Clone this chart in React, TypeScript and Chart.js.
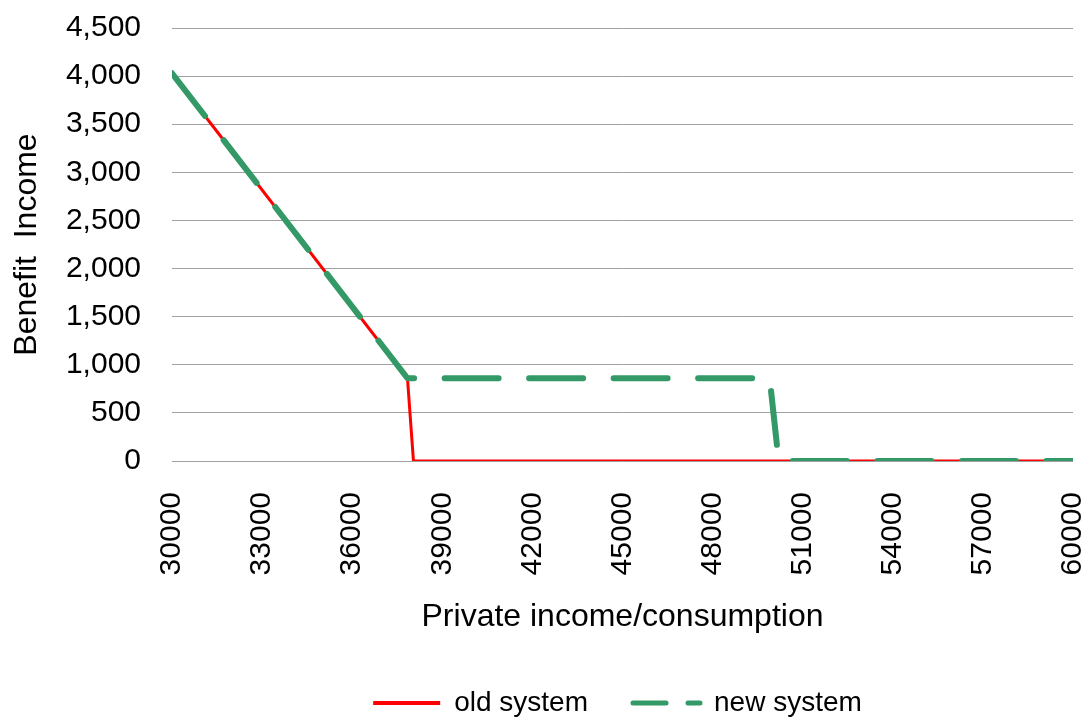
import React, { useEffect, useRef } from "react";
import { Chart, registerables } from "chart.js";

Chart.register(...registerables);

const oldIncome = [30000, 37840, 38040, 60000];
const oldBenefit = [4030, 860, 0, 0];
const newIncome = [30000, 37840, 49900, 50200, 60000];
const newBenefit = [4030, 860, 860, 0, 0];
const seriesLabels = ["old system", "new system"];
const xTitle = "Private income/consumption";
const yTitle = "Benefit  Income";

const FONT = "'Liberation Sans', Arial, sans-serif";
const RED = "#ff0000";
const GREEN = "#339966";

export default function App() {
  const ref = useRef<HTMLCanvasElement>(null);
  useEffect(() => {
    if (!ref.current) return;
    const legendShift = {
      id: "legendShift",
      afterLayout(chart: any) {
        const lg = chart.legend;
        if (lg) {
          lg.left += 81;
          lg.right += 81;
        }
      },
    };
    const chart = new Chart(ref.current, {
      type: "line",
      data: {
        datasets: [
          {
            label: seriesLabels[0],
            data: oldIncome.map((x, i) => ({ x, y: oldBenefit[i] })),
            borderColor: RED,
            backgroundColor: RED,
            borderWidth: 3,
            pointRadius: 0,
            tension: 0,
            order: 2,
          },
          {
            label: seriesLabels[1],
            data: newIncome.map((x, i) => ({ x, y: newBenefit[i] })),
            borderColor: GREEN,
            backgroundColor: GREEN,
            borderWidth: 6,
            borderDash: [54, 30.5],
            borderCapStyle: "round",
            borderJoinStyle: "round",
            pointRadius: 0,
            tension: 0,
            order: 1,
          },
        ],
      },
      options: {
        animation: false,
        responsive: false,
        layout: { padding: { top: 28, right: 15, bottom: -7, left: 0 } },
        plugins: {
          tooltip: { enabled: false },
          legend: {
            display: true,
            position: "bottom",
            labels: {
              usePointStyle: true,
              pointStyleWidth: 67,
              padding: 45,
              color: "#000",
              font: { family: FONT, size: 28 },
              generateLabels: () => [
                {
                  text: seriesLabels[0],
                  fillStyle: RED,
                  strokeStyle: RED,
                  lineWidth: 4,
                  lineDash: [],
                  lineCap: "butt",
                  pointStyle: "line",
                  hidden: false,
                  datasetIndex: 0,
                  fontColor: "#000",
                },
                {
                  text: seriesLabels[1],
                  fillStyle: GREEN,
                  strokeStyle: GREEN,
                  lineWidth: 5,
                  lineDash: [33, 22],
                  lineCap: "round",
                  pointStyle: "line",
                  hidden: false,
                  datasetIndex: 1,
                  fontColor: "#000",
                },
              ],
            },
          },
        },
        scales: {
          x: {
            type: "linear",
            min: 30000,
            max: 60000,
            afterFit: (s: any) => {
              s.height = 183;
              s.paddingLeft = 0;
              s.paddingRight = 0;
            },
            ticks: {
              stepSize: 3000,
              minRotation: 90,
              maxRotation: 90,
              padding: 31,
              color: "#000",
              font: { family: FONT, size: 30 },
              callback: (v: any) => String(v),
            },
            grid: { display: false, drawTicks: false },
            border: { display: false },
            title: {
              display: true,
              text: xTitle,
              color: "#000",
              font: { family: FONT, size: 32 },
              padding: { top: 0, bottom: 8 },
            },
          },
          y: {
            min: 0,
            max: 4500,
            afterFit: (s: any) => {
              s.width = 172;
              s.paddingTop = 0;
              s.paddingBottom = 0;
            },
            ticks: {
              stepSize: 500,
              padding: 31,
              color: "#000",
              font: { family: FONT, size: 30 },
              callback: (v: any) => Number(v).toLocaleString("en-US"),
            },
            grid: { color: "#a0a0a0", lineWidth: 1, drawTicks: false },
            border: { display: false },
            title: {
              display: true,
              text: yTitle,
              color: "#000",
              font: { family: FONT, size: 32 },
              padding: { top: 8, bottom: 0 },
            },
          },
        },
      },
      plugins: [legendShift],
    } as any);
    return () => chart.destroy();
  }, []);
  return (
    <div style={{ position: "fixed", left: 0, top: 0, width: 1088, height: 720, background: "#fff" }}>
      <canvas ref={ref} width={1088} height={720} />
    </div>
  );
}
